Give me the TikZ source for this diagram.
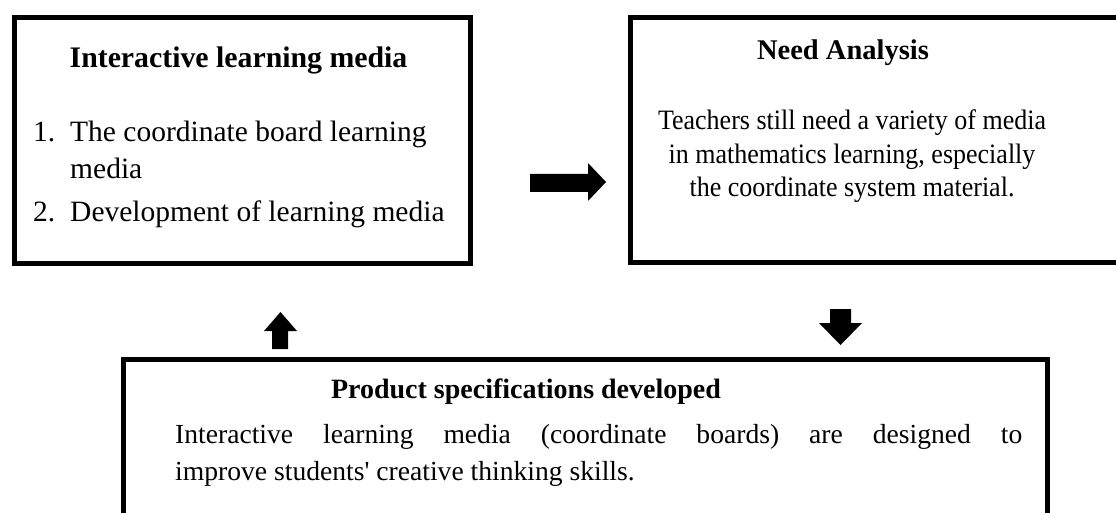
\documentclass[tikz,border=0pt]{standalone}
\usepackage{fontspec}
\setmainfont{Liberation Serif}[Ligatures=TeXOff]
\begin{document}
\begin{tikzpicture}[x=1pt,y=-1pt,
  frame/.style={draw=black, line width=5pt, inner sep=0pt, anchor=north west},
  title/.style={font=\fontsize{28.5}{34}\selectfont\bfseries, inner sep=0pt, anchor=base},
  listtext/.style={font=\fontsize{29.5}{36}\selectfont, inner sep=0pt, anchor=base west},
  needtext/.style={font=\fontsize{26}{32}\selectfont, inner sep=0pt, anchor=base, yscale=1.08},
  spectext/.style={font=\fontsize{27.6}{34}\selectfont, inner sep=0pt, anchor=base west},
  blockarrow/.style={fill=black}]
\useasboundingbox (0,0) rectangle (1116,513);
\clip (0,0) rectangle (1116,513);

% the three frames
\node[frame, minimum width=455.7pt, minimum height=245.6pt] (media) at (11.8,15.2) {};
\node[frame, minimum width=507.5pt, minimum height=244.5pt] (need) at (627.5,15) {};
\node[frame, minimum width=923.5pt, minimum height=200pt] (spec) at (121,357) {};

% interactive learning media
\node[title, font=\fontsize{29.8}{34}\selectfont\bfseries] (mediaT) at (238.5,68) {Interactive learning media};
\node[listtext] (m1) at (33,141.7) {1.};
\node[listtext] (m1a) at (70,141.7) {The coordinate board learning};
\node[listtext] (m1b) at (70,179) {media};
\node[listtext] (m2) at (33,221.7) {2.};
\node[listtext] (m2a) at (70,221.7) {Development of learning media};

% need analysis
\node[title] (needT) at (843,60) {Need Analysis};
\node[needtext] (n1) at (852,129.3) {Teachers still need a variety of media};
\node[needtext] (n2) at (852,163.3) {in mathematics learning, especially};
\node[needtext] (n3) at (852,196.7) {the coordinate system material.};

% product specifications
\node[title, font=\fontsize{28}{34}\selectfont\bfseries] (specT) at (526,398) {Product specifications developed};
\node[spectext] (s1) at (175,443) {\makebox[847pt][s]{Interactive learning media (coordinate boards) are designed to}};
\node[spectext] (s2) at (175,480) {improve students' creative thinking skills.};

% block arrows
\fill[blockarrow] (530,174) -- (588,174) -- (588,163) -- (606,182) -- (588,201) -- (588,192) -- (530,192) -- cycle;
\fill[blockarrow] (272,349) -- (272,331) -- (264,331) -- (280.5,312) -- (297,331) -- (288,331) -- (288,349) -- cycle;
\fill[blockarrow] (830,309) -- (851,309) -- (851,323) -- (862,323) -- (840.5,345) -- (819,323) -- (830,323) -- cycle;
\end{tikzpicture}
\end{document}
